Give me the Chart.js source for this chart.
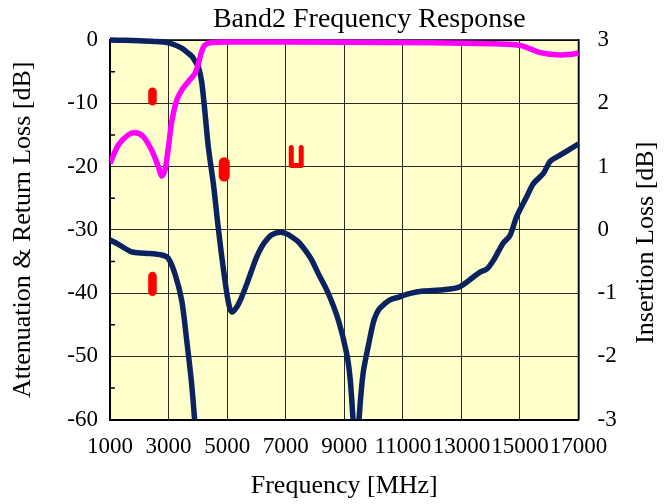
<!DOCTYPE html>
<html><head><meta charset="utf-8">
<script src="https://cdn.jsdelivr.net/npm/chart.js@4/dist/chart.umd.min.js"></script>
<style>html,body{margin:0;padding:0;background:#fff}#wrap{width:670px;height:504px}</style>
</head><body><div id="wrap"><canvas id="c" width="670" height="504"></canvas></div>
<script>
const chartTitle = 'Band2 Frequency Response';
const xTitle = 'Frequency [MHz]';
const yLeftTitle = 'Attenuation & Return Loss [dB]';
const yRightTitle = 'Insertion Loss [dB]';

const xTicks = [1000, 3000, 5000, 7000, 9000, 11000, 13000, 15000, 17000];
const yLeftTicks = [0, -10, -20, -30, -40, -50, -60];
const yRightTicks = [3, 2, 1, 0, -1, -2, -3];

// Attenuation (left axis)
const attFreq = [1000, 1500, 2000, 2500, 2900, 3200, 3450, 3650, 3800, 3900, 4020, 4130, 4240, 4360, 4530, 4700, 4870, 5040, 5160, 5330, 5500, 5670, 5840, 6010, 6180, 6350, 6520, 6800, 7000, 7200, 7430, 7660, 7890, 8110, 8450, 8800, 9080, 9200, 9300, 9400, 9505, 9580, 9650, 9740, 9820, 9990, 10100, 10220, 10560, 10900, 11250, 11700, 12380, 12950, 13400, 13640, 13870, 14100, 14430, 14660, 14890, 15230, 15460, 15800, 16030, 16370, 16940, 17000];
const attenuation = [0, -0.05, -0.12, -0.22, -0.35, -0.75, -1.3, -2.0, -2.6, -3.3, -4.3, -6.6, -11.3, -17.0, -22.7, -29.8, -36.1, -41.4, -43.0, -42.2, -40.6, -38.6, -36.4, -34.3, -32.7, -31.6, -30.8, -30.4, -30.6, -31.1, -31.9, -33.2, -34.8, -36.9, -40.0, -44.3, -49.5, -53.5, -60, -68, -60, -55.5, -52.5, -50.2, -48.4, -44.7, -43.3, -42.4, -41.1, -40.6, -40.05, -39.7, -39.5, -39.0, -37.5, -36.7, -36.2, -34.8, -32.1, -30.9, -27.9, -24.8, -22.7, -21.1, -19.2, -18.2, -16.6, -16.4];

// Return loss (left axis)
const rlFreq = [1000, 1285, 1625, 1880, 2140, 2420, 2650, 2765, 2880, 2990, 3110, 3280, 3500, 3730, 3900, 4020, 4130, 4240, 4470, 5150, 9000, 12000, 13000, 14300, 15000, 15350, 15700, 16250, 16700, 17000];
const returnLoss = [-19.5, -16.6, -15.0, -14.65, -15.3, -17.4, -20.0, -21.5, -20.5, -17.1, -12.9, -9.5, -7.6, -6.3, -5.3, -3.7, -1.85, -0.8, -0.4, -0.3, -0.35, -0.45, -0.5, -0.63, -0.85, -1.4, -2.0, -2.35, -2.3, -2.05];

// Insertion loss (right axis)
const ilFreq = [1000, 1285, 1740, 2195, 2765, 2990, 3220, 3450, 3620, 3780, 3890, 3920];
const insertionLoss = [-0.16, -0.23, -0.35, -0.37, -0.40, -0.45, -0.70, -1.12, -1.75, -2.4, -3.0, -3.2];

// Spec markers (left axis)
const spec1Freq = [2450, 2450];   const spec1 = [-8.2, -9.7];
const spec2Freq = [4900, 4900];   const spec2 = [-19.4, -21.5];
const spec3Freq = [7190, 7190, 7530, 7530]; const spec3 = [-17.0, -19.85, -19.85, -17.0];
const spec4Freq = [2450, 2450];   const spec4 = [-37.3, -39.8];

const pts = (xs, ys) => xs.map((x, i) => ({x: x, y: ys[i]}));
const FONT = '"Liberation Serif", "Times New Roman", serif';
const NAVY = '#0a2260';
const clipArea = {left: 0, top: 6, right: 6, bottom: 0};

const decor = {
  id: 'decor',
  beforeDraw(chart) {
    const {ctx, chartArea: a} = chart;
    ctx.save();
    ctx.fillStyle = '#ffffff';
    ctx.fillRect(0, 0, chart.width, chart.height);
    ctx.fillStyle = '#FFFFCC';
    ctx.fillRect(a.left, a.top, a.right - a.left, a.bottom - a.top);
    ctx.restore();
  },
  beforeDatasetsDraw(chart) {
    const {ctx, chartArea: a, scales} = chart;
    ctx.save();
    ctx.strokeStyle = '#000';
    ctx.lineWidth = 1.5;
    ctx.beginPath();
    ctx.moveTo(a.left, a.top); ctx.lineTo(a.right, a.top);
    ctx.moveTo(a.right, a.top); ctx.lineTo(a.right, a.bottom);
    ctx.stroke();
    ctx.beginPath();
    for (let v = -55; v < 0; v += 10) {
      const y = scales.y.getPixelForValue(v);
      ctx.moveTo(a.left, y); ctx.lineTo(a.left + 5, y);
    }
    ctx.stroke();
    ctx.restore();
  },
  afterDraw(chart) {
    const {ctx, chartArea: a} = chart;
    ctx.save();
    ctx.fillStyle = '#000';
    ctx.font = '28px ' + FONT;
    ctx.textAlign = 'center';
    ctx.textBaseline = 'alphabetic';
    ctx.fillText(chartTitle, (a.left + a.right) / 2 + 25, 27);
    ctx.font = '26px ' + FONT;
    ctx.textBaseline = 'middle';
    ctx.translate(646, (a.top + a.bottom) / 2 + 13);
    ctx.rotate(-Math.PI / 2);
    ctx.fillText(yRightTitle, 0, 0);
    ctx.restore();
  }
};

const lineDs = (label, data, color, width, axis, order) => ({
  label, data, borderColor: color, backgroundColor: color, borderWidth: width,
  pointRadius: 0, fill: false, yAxisID: axis, order,
  tension: 0.3, clip: clipArea,
  borderCapStyle: 'butt', borderJoinStyle: 'round'
});
const specDs = (label, data, width) => ({
  label, data, borderColor: '#FF0000', backgroundColor: '#FF0000', borderWidth: width,
  pointRadius: 0, fill: false, yAxisID: 'y', order: 0, tension: 0,
  borderCapStyle: 'round', borderJoinStyle: 'round', clip: false
});

new Chart(document.getElementById('c'), {
  type: 'line',
  data: {
    datasets: [
      specDs('spec1', pts(spec1Freq, spec1), 8.5),
      specDs('spec2', pts(spec2Freq, spec2), 11),
      specDs('spec3', pts(spec3Freq, spec3), 5),
      specDs('spec4', pts(spec4Freq, spec4), 8.5),
      lineDs('Return Loss', pts(rlFreq, returnLoss), '#FF00FF', 5.5, 'y', 1),
      lineDs('Insertion Loss', pts(ilFreq, insertionLoss), NAVY, 5.5, 'y2', 2),
      lineDs('Attenuation', pts(attFreq, attenuation), NAVY, 5.5, 'y', 3)
    ]
  },
  options: {
    responsive: false, animation: false, devicePixelRatio: 1,
    layout: {padding: {top: 40, left: 0, right: 0, bottom: 0}},
    plugins: {legend: {display: false}, title: {display: false}, tooltip: {enabled: false}},
    scales: {
      x: {
        type: 'linear', min: 1000, max: 17000,
        afterBuildTicks: s => { s.ticks = xTicks.map(v => ({value: v})); },
        afterFit: s => { s.height = 84.5; },
        grid: {color: '#2a2a20', lineWidth: 1, drawTicks: false},
        border: {display: true, color: '#000', width: 2},
        ticks: {autoSkip: false, maxRotation: 0, padding: 14, color: '#000', font: {family: FONT, size: 23},
                callback: v => String(v)},
        title: {display: true, text: xTitle, color: '#000', font: {family: FONT, size: 26}, padding: {top: 0, bottom: 2}}
      },
      y: {
        position: 'left', min: -60, max: 0,
        afterBuildTicks: s => { s.ticks = yLeftTicks.map(v => ({value: v})); },
        afterFit: s => { s.width = 110; },
        grid: {color: '#2a2a20', lineWidth: 1, drawTicks: false},
        border: {display: true, color: '#000', width: 2},
        ticks: {padding: 12, color: '#000', font: {family: FONT, size: 23}, callback: v => String(v)},
        title: {display: true, text: yLeftTitle, color: '#000', font: {family: FONT, size: 26}, padding: {top: 8, bottom: 0}}
      },
      y2: {
        position: 'right', min: -3, max: 3,
        afterBuildTicks: s => { s.ticks = yRightTicks.map(v => ({value: v})); },
        afterFit: s => { s.width = 91.5; },
        grid: {drawOnChartArea: false, drawTicks: false},
        border: {display: true, color: '#000', width: 1.5},
        ticks: {padding: 19, color: '#000', font: {family: FONT, size: 23}, callback: v => String(v)},
        title: {display: false, text: yRightTitle}
      }
    }
  },
  plugins: [decor]
});
</script>
</body></html>
